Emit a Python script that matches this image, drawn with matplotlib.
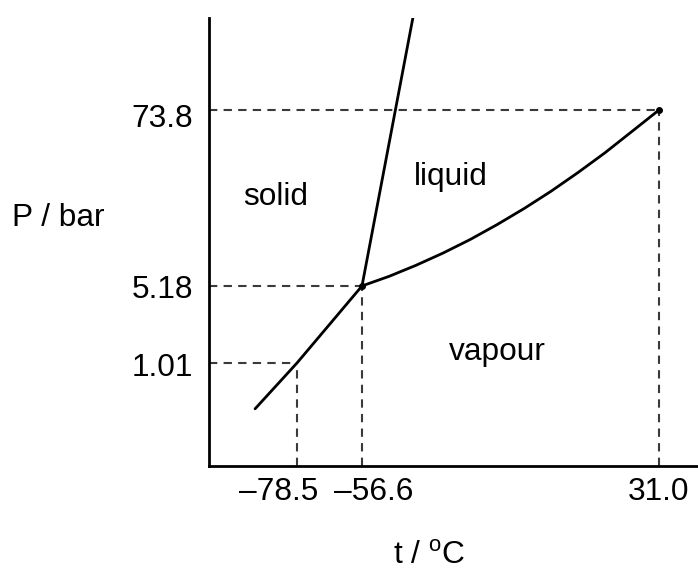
import numpy as np
import matplotlib
matplotlib.use("Agg")
from matplotlib import pyplot as plt

plt.rcParams['font.family'] = ['Liberation Sans', 'DejaVu Sans']
plt.rcParams['mathtext.fontset'] = 'custom'
plt.rcParams['mathtext.rm'] = 'Liberation Sans'

# phase diagram of CO2 (schematic)
t_ticks = [-78.5, -56.6, 31.0]
t_tick_labels = ['\u201378.5', '\u201356.6', '31.0']
p_ticks = [1.01, 5.18, 73.8]
p_tick_labels = ['1.01', '5.18', '73.8']

triple = (-56.6, 5.18)
critical = (31.0, 73.8)

subl_t = [-92.6, -78.5, -56.6]
subl_p = [0.38, 1.01, 5.18]

melt_t = [-56.6, -41.6]
melt_p = [5.18, 295.0]

vap_t = [-56.6, -48.6, -40.7, -32.7, -24.7, -16.8, -8.8, -0.85, 7.1, 15.1, 23.0, 31.0]
vap_p = [5.18, 5.99, 7.07, 8.51, 10.44, 13.06, 16.66, 21.63, 28.69, 38.73, 53.33, 73.8]

regions = ['solid', 'liquid', 'vapour']
region_t = [-85.6, -30.3, -16.8]
region_p = [19.9, 26.8, 1.28]

# the drawing is not to scale: piecewise scales fitted to the labelled points
T_ANCH = [-108.1, -78.5, -56.6, 31.0, 42.5]
UX_ANCH = [0, 88, 153, 450, 489]
LOGP_ANCH = [-0.95, 0.004, 0.714, 1.868, 2.47]
UY_ANCH = [0, 103, 180, 356, 448]


def fx(t):
    return np.interp(t, T_ANCH, UX_ANCH)


def fx_inv(u):
    return np.interp(u, UX_ANCH, T_ANCH)


def fy(p):
    p = np.clip(np.asarray(p, dtype=float), 1e-6, None)
    return np.interp(np.log10(p), LOGP_ANCH, UY_ANCH)


def fy_inv(u):
    return 10 ** np.interp(u, UY_ANCH, LOGP_ANCH)


fig = plt.figure(figsize=(6.98, 5.74), dpi=100)
ax = fig.add_axes([209 / 698, 108 / 574, 489 / 698, 448 / 574])
ax.set_xscale('function', functions=(fx, fx_inv))
ax.set_yscale('function', functions=(fy, fy_inv))
xmin, xmax = T_ANCH[0], T_ANCH[-1]
ymin, ymax = 10 ** LOGP_ANCH[0], 10 ** LOGP_ANCH[-1]
ax.set_xlim(xmin, xmax)
ax.set_ylim(ymin, ymax)

for s in ['top', 'right']:
    ax.spines[s].set_visible(False)
for s in ['left', 'bottom']:
    ax.spines[s].set_linewidth(2)
    ax.spines[s].set_color('black')
ax.set_xticks([])
ax.set_yticks([])

# dashed guides
dash = dict(color='#3a3a3a', lw=1.5, ls=(0, (4, 3)), zorder=1)
for t, p in zip(t_ticks, p_ticks):
    ax.plot([xmin, t], [p, p], **dash)
    ax.plot([t, t], [ymin, p], **dash)

# phase boundaries
line = dict(color='black', lw=2, solid_capstyle='round', solid_joinstyle='round', zorder=3)
ax.plot(subl_t, subl_p, **line)
ax.plot(melt_t, melt_p, **line)
ax.plot(vap_t, vap_p, **line)
ax.plot(*zip(triple, critical), 'o', color='black', ms=4, zorder=4)

fs = 22.8
for name, t, p in zip(regions, region_t, region_p):
    ax.text(t, p, name, fontsize=fs, ha='center', va='center')

# tick labels
x_off = [-13, 8.6, 0]
for t, lab, dx in zip(t_ticks, t_tick_labels, x_off):
    ax.annotate(lab, xy=(t, 0), xycoords=ax.get_xaxis_transform(),
                xytext=(dx, -19), textcoords='offset points',
                ha='center', va='center', fontsize=fs, annotation_clip=False)
y_off = [-3.5, -3, -6.5]
for p, lab, dy in zip(p_ticks, p_tick_labels, y_off):
    ax.annotate(lab, xy=(0, p), xycoords=ax.get_yaxis_transform(),
                xytext=(-11.5, dy), textcoords='offset points',
                ha='right', va='center', fontsize=fs, annotation_clip=False)

fig.text(12 / 698, 1 - 218 / 574, 'P / bar', fontsize=fs, ha='left', va='center')
fig.text(429 / 698, 1 - 556 / 574, r't / $^{\mathrm{o}}$C', fontsize=fs,
         ha='center', va='center')

fig.savefig('out.png', dpi=100)
